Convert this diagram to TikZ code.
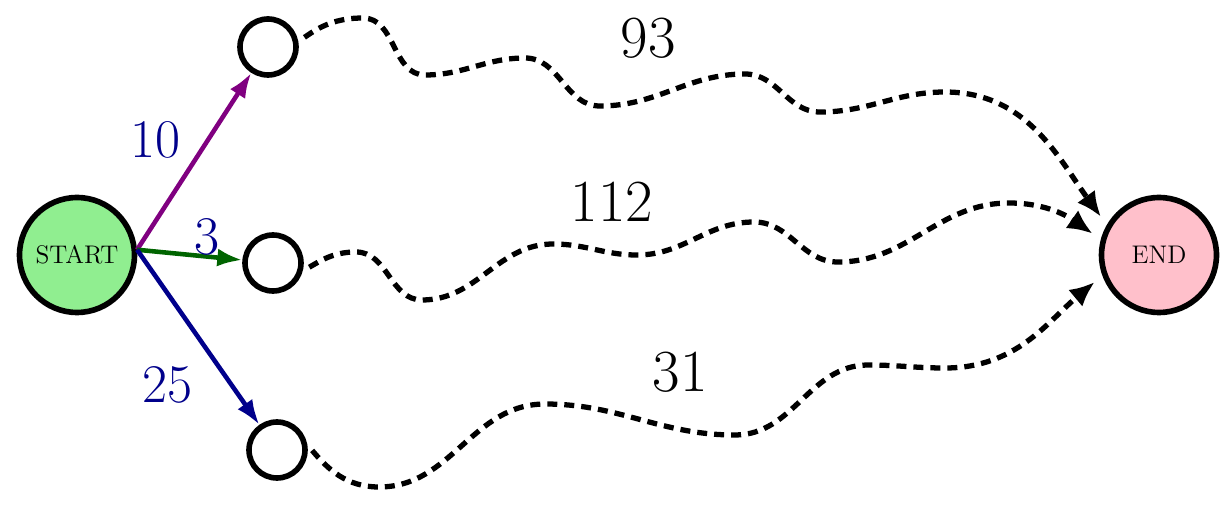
\documentclass[tikz,border=0pt]{standalone}
\usetikzlibrary{arrows.meta}
\definecolor{startgreen}{HTML}{90EE90}
\definecolor{goalpink}{HTML}{FFC0CB}
\definecolor{legpurple}{HTML}{800080}
\definecolor{leggreen}{HTML}{006400}
\definecolor{legblue}{HTML}{00008B}
\definecolor{weightblue}{HTML}{00008B}

\begin{document}
\begin{tikzpicture}[x=0.02cm, y=0.02cm,
  endpoint/.style={circle, draw=black, line width=3.2pt, minimum size=2.3cm,
    inner sep=0pt, font=\fontsize{14.5}{16}\selectfont},
  hop/.style={circle, draw=black, line width=3.2pt, minimum size=1.12cm, inner sep=0pt},
  firstleg/.style={-{Latex[length=0.5cm,width=0.36cm]}, line width=2.6pt},
  detour/.style={-{Latex[length=0.5cm,width=0.44cm]}, line width=3pt,
    dash pattern=on 0.2cm off 0.14cm, shorten <=0.15cm, shorten >=0.2cm},
  cost/.style={font=\fontsize{34}{40}\selectfont},
  weight/.style={text=weightblue, font=\fontsize{31}{36}\selectfont}
]
\useasboundingbox (0,0) rectangle (1227,504);
\node[endpoint, fill=startgreen] (start) at (77,249) {START};
\node[endpoint, fill=goalpink] (goal) at (1159,249) {END};
\node[hop] (top) at (268,457) {};
\node[hop] (mid) at (273,241) {};
\node[hop] (low) at (277,54) {};
% first legs
\draw[firstleg, legpurple] (start.5) -- (top);
\draw[firstleg, leggreen] (start.5) -- (mid);
\draw[firstleg, legblue] (start.5) -- (low);
\node[weight] (w10) at (155,364) {10};
\node[weight] (w3) at (207,267) {3};
\node[weight] (w25) at (167,119) {25};
% detours to the goal
\draw[detour] (top.10) to[out=35,in=180] (363,486) to[out=0,in=180] (425,429)
  to[out=0,in=180] (525,446) to[out=0,in=180] (600,398) to[out=0,in=180] (745,430)
  to[out=0,in=180] (820,392) to[out=0,in=180] (945,412) to[out=0,in=126] (goal.150);
\draw[detour] (mid.-15) to[out=30,in=180] (356,252) to[out=0,in=180] (422,204)
  to[out=0,in=180] (553,260) to[out=0,in=180] (637,249) to[out=0,in=180] (754,282)
  to[out=0,in=180] (838,242) to[out=0,in=180] (1009,301) to[out=0,in=145] (goal.165);
\draw[detour] (low.10) to[out=-50,in=180] (379,17) to[out=0,in=180] (545,100)
  to[out=0,in=180] (735,69) to[out=0,in=180] (868,139) to[out=0,in=180] (945,136)
  to[out=0,in=220] (goal.200);
\node[cost] (c93) at (648,466) {93};
\node[cost] (c112) at (612,302) {112};
\node[cost] (c31) at (680,132) {31};
\end{tikzpicture}
\end{document}
